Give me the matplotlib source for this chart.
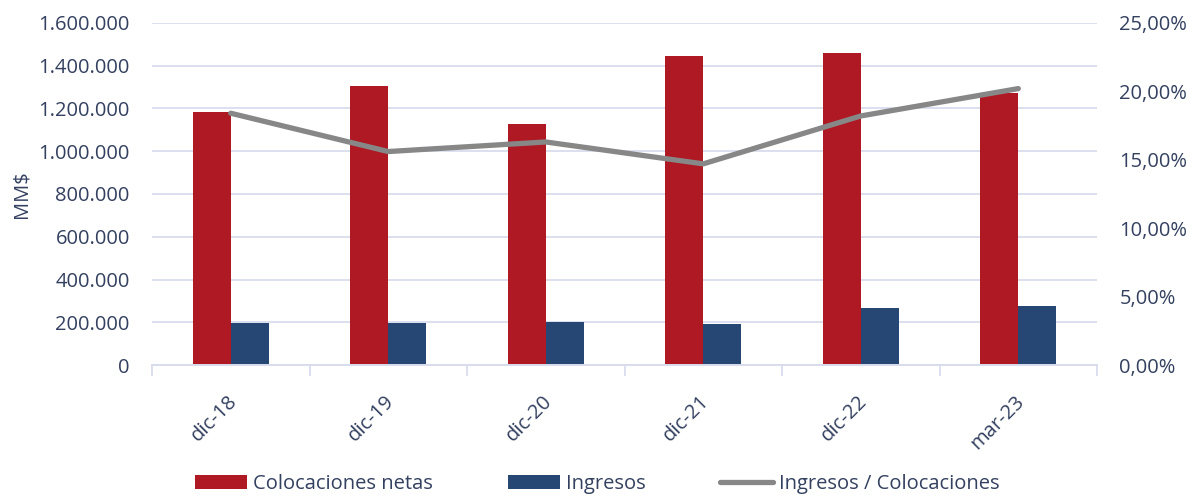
import numpy as np
import matplotlib.pyplot as plt
from matplotlib.ticker import FuncFormatter, FixedLocator

plt.rcParams['font.family'] = ['Open Sans', 'DejaVu Sans']

periods = ['dic-18', 'dic-19', 'dic-20', 'dic-21', 'dic-22', 'mar-23']
colocaciones = [1183000, 1305000, 1127000, 1446000, 1458000, 1271000]
ingresos = [195000, 195000, 200000, 192000, 267000, 276000]
ratio = [18.4, 15.6, 16.3, 14.7, 18.2, 20.2]  # %

txt = '#33405f'
grid = '#d9dcec'
red = '#ae1923'
blue = '#264673'
gray = '#878787'
fs = 14.5

fig = plt.figure(figsize=(11.94, 4.98), dpi=100)
ax = fig.add_axes([0.1273, 0.267, 0.7915, 0.687])
ax2 = ax.twinx()

x = np.arange(len(periods))
w = 0.24
ax.bar(x - w/2, colocaciones, w, color=red, label='Colocaciones netas', zorder=2)
ax.bar(x + w/2, ingresos, w, color=blue, label='Ingresos', zorder=2)
ax2.plot(x, ratio, color=gray, lw=3.8, solid_capstyle='round', label='Ingresos / Colocaciones')

ax.set_xlim(-0.5, len(periods) - 0.5)
ax.set_ylim(0, 1600000)
ax.set_yticks(np.arange(0, 1600001, 200000))
ax.yaxis.set_major_formatter(FuncFormatter(lambda v, p: f'{int(v):,}'.replace(',', '.')))
ax.grid(axis='y', color=grid, lw=1.3, zorder=0)
ax.set_axisbelow(True)

ax2.set_ylim(0, 25)
ax2.set_yticks(np.arange(0, 25.1, 5))
ax2.yaxis.set_major_formatter(FuncFormatter(lambda v, p: f'{v:.2f}'.replace('.', ',') + '%'))

for a in (ax, ax2):
    for s in ['top', 'left', 'right']:
        a.spines[s].set_visible(False)
    a.spines['bottom'].set_color(grid)
    a.spines['bottom'].set_linewidth(1.3)
    a.tick_params(axis='y', length=0, labelsize=fs, labelcolor=txt)
ax.tick_params(axis='y', pad=16)
ax2.tick_params(axis='y', pad=16)

# category boundaries as ticks, labels at centres
ax.xaxis.set_major_locator(FixedLocator(np.arange(-0.5, len(periods), 1.0)))
ax.xaxis.set_minor_locator(FixedLocator(x))
ax.tick_params(axis='x', which='major', length=8, color=grid, width=1.3, labelbottom=False)
ax.tick_params(axis='x', which='minor', length=0, labelsize=fs, labelcolor=txt, pad=24)
ax.set_xticks(x + 0.02, periods, minor=True)
for lbl in ax.get_xticklabels(minor=True):
    lbl.set_rotation(45)
    lbl.set_ha('right')
    lbl.set_va('center')
    lbl.set_rotation_mode('anchor')

ax.set_ylabel('MM$', fontsize=fs, color=txt)
ax.yaxis.set_label_coords(-0.127, 0.5)

h1, l1 = ax.get_legend_handles_labels()
h2, l2 = ax2.get_legend_handles_labels()
fig.legend(h1 + h2, l1 + l2, loc='center', bbox_to_anchor=(0.5, 0.028), ncol=3,
           frameon=False, fontsize=fs, labelcolor=txt, handlelength=2.6,
           handletextpad=0.3, columnspacing=3.7, handleheight=0.7)

fig.savefig('out.png', dpi=100)
